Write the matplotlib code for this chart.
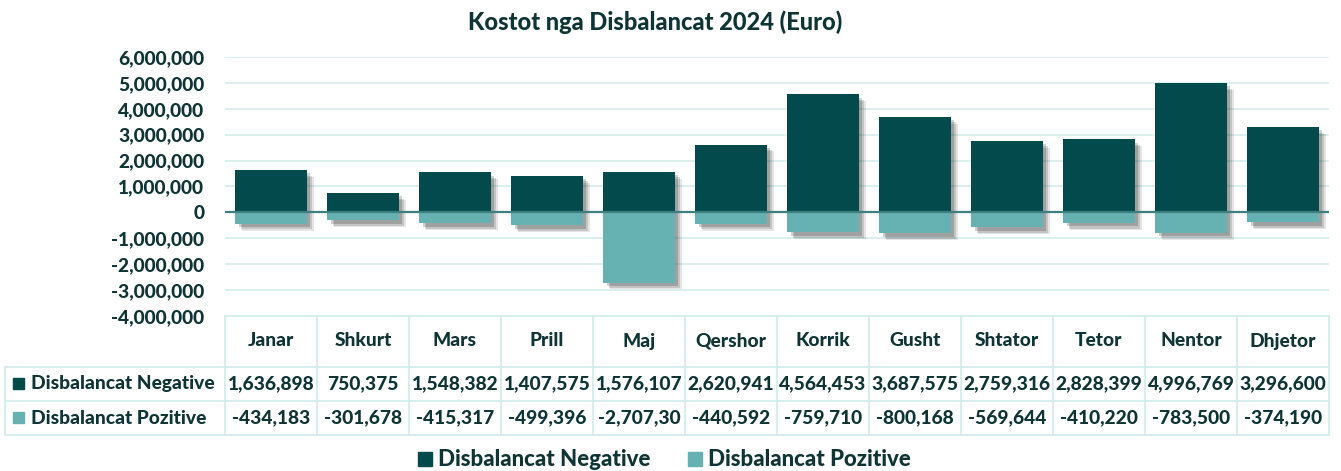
import numpy as np
import matplotlib
matplotlib.use("Agg")
import matplotlib.pyplot as plt
import matplotlib.patheffects as pe
from matplotlib.patches import Rectangle

months = ["Janar", "Shkurt", "Mars", "Prill", "Maj", "Qershor", "Korrik",
          "Gusht", "Shtator", "Tetor", "Nentor", "Dhjetor"]
negative = [1636898, 750375, 1548382, 1407575, 1576107, 2620941, 4564453,
            3687575, 2759316, 2828399, 4996769, 3296600]
positive = [-434183, -301678, -415317, -499396, -2707300, -440592, -759710,
            -800168, -569644, -410220, -783500, -374190]
series_names = ["Disbalancat Negative", "Disbalancat Pozitive"]
title = "Kostot nga Disbalancat 2024 (Euro)"

dark = "#034A4D"
light = "#66B2B2"
txt = "#0F3435"
grid_c = "#D4ECEC"

plt.rcParams['font.family'] = ['Lato', 'DejaVu Sans']
plt.rcParams['font.weight'] = 'black'

W, H = 1341, 471
fig = plt.figure(figsize=(W / 100, H / 100), dpi=100)

# plot area in pixels
left, right, top, bottom = 225, 1329, 57, 316
ax = fig.add_axes([left / W, 1 - bottom / H, (right - left) / W, (bottom - top) / H])

x = np.arange(len(months)) + 0.5
shadow = [pe.SimplePatchShadow(offset=(5, -5), shadow_rgbFace='#000000', alpha=0.10),
          pe.SimplePatchShadow(offset=(4, -4), shadow_rgbFace='#000000', alpha=0.14),
          pe.SimplePatchShadow(offset=(2.5, -2.5), shadow_rgbFace='#000000', alpha=0.18),
          pe.Normal()]
b1 = ax.bar(x, negative, width=0.78, color=dark, zorder=3)
b2 = ax.bar(x, positive, width=0.78, color=light, zorder=3)
for p in list(b1) + list(b2):
    p.set_path_effects(shadow)

ax.set_xlim(0, len(months))
ax.set_ylim(-4000000, 6000000)
ax.set_yticks(np.arange(-4000000, 6000001, 1000000))
ax.set_yticklabels([f"{int(v):,}" for v in ax.get_yticks()], color=txt, fontsize=13.8,
                   fontweight='black')
ax.tick_params(axis='y', length=0, pad=15)
ax.set_xticks([])
for s in ax.spines.values():
    s.set_visible(False)
ax.grid(axis='y', color=grid_c, linewidth=1.2, zorder=0)
ax.axhline(0, color="#3D7E7F", linewidth=1.6, zorder=4)

fig.text(655 / W, 1 - 22 / H, title, ha='center', va='center', fontsize=17,
         fontweight='black', color=txt)

# data table drawn in pixel coordinates
tab = fig.add_axes([0, 0, 1, 1])
tab.set_xlim(0, W)
tab.set_ylim(H, 0)
tab.axis('off')
cw = (right - left) / len(months)
edges = left + np.arange(len(months) + 1) * cw
rows = [316, 367, 401, 435]
lc = "#D4ECEC"
lw = 1.3
tab.plot([left, right], [rows[0]] * 2, color=lc, lw=lw)
for r in rows[1:]:
    tab.plot([5, right], [r, r], color=lc, lw=lw)
for e in edges:
    tab.plot([e, e], [rows[0], rows[-1]], color=lc, lw=lw)
tab.plot([5, 5], [rows[1], rows[-1]], color=lc, lw=lw)

fs = 13.8
for i, m in enumerate(months):
    cx = (edges[i] + edges[i + 1]) / 2
    tab.text(cx, 341, m, ha='center', va='center', fontsize=fs, color=txt)
    tab.text(cx, 384, f"{negative[i]:,}", ha='center', va='center', fontsize=fs, color=txt)
    tab.text(cx, 418, f"{positive[i]:,}"[:9], ha='center', va='center', fontsize=fs, color=txt)

for yy, col, name in [(384, dark, series_names[0]), (418, light, series_names[1])]:
    tab.add_patch(Rectangle((13, yy - 6), 11, 11, color=col))
    tab.text(31, yy, name, ha='left', va='center', fontsize=fs, color=txt)

# legend
for lx, col, name in [(418, dark, series_names[0]), (688, light, series_names[1])]:
    tab.add_patch(Rectangle((lx, 452), 14, 14, color=col))
    tab.text(lx + 20, 459, name, ha='left', va='center', fontsize=16, color=txt)

fig.savefig("out.png", dpi=100)
